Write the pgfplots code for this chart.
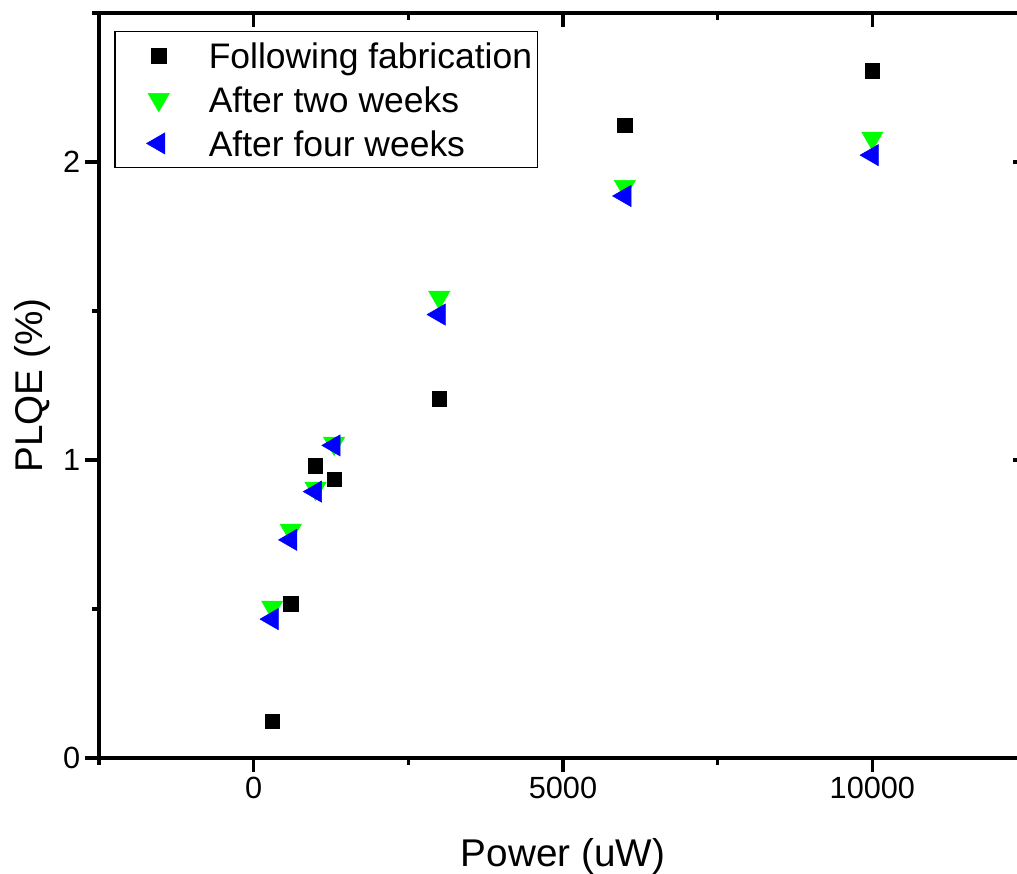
\documentclass[border=0pt]{standalone}
\usepackage{pgfplots}
\pgfplotsset{compat=1.18}
\usetikzlibrary{calc}
\usepackage{fontspec}
\setmainfont{Liberation Sans}
\begin{document}
\begin{tikzpicture}
\pgfplotsset{
  common/.style={
    scale only axis, width=696pt, height=558.75pt,
    xmin=-2500, xmax=12500, ymin=0, ymax=2.5,
    xtick={0,5000,10000}, minor xtick={-2500,2500,7500,12500},
    ytick={0,1,2}, minor ytick={0.5,1.5,2.5},
    scaled x ticks=false, scaled y ticks=false,
    axis line style={line width=2.3pt},
    major tick style={line width=2.3pt, black},
    minor tick style={line width=2.3pt, black},
    major tick length=10.5pt, minor tick length=5.25pt,
    /pgf/number format/assume math mode=true,
    /pgf/number format/set thousands separator={},
    tick label style={font=\fontsize{23}{23}\selectfont},
  }
}
\begin{axis}[common,
  tick pos=left, tick align=outside,
  xlabel={Power (uW)}, ylabel={PLQE (\%)},
  label style={font=\fontsize{29}{29}\selectfont},
  xlabel style={at={(axis description cs:0.5,-0.145)}, anchor=base},
  ylabel style={at={(axis description cs:-0.0614,0.5)}, anchor=base, rotate=0},
  legend style={at={(rel axis cs:0.0162,0.9758)}, anchor=north west,
    draw=black, line width=1.1pt, inner xsep=4pt, inner ysep=8.5pt,
    row sep=14pt, column sep=8.5pt,
    font=\fontsize{26.6}{26.6}\selectfont,
    nodes={inner xsep=0pt, inner ysep=0pt, text height=18.9pt, text depth=0pt}},
  legend cell align=left,
  legend image code/.code={\path[draw=none,fill=none] (0pt,0pt) -- (58pt,0pt); \draw[#1] plot coordinates {(29pt,0pt)};},
]
\coordinate (SW) at (rel axis cs:0,0);
\coordinate (NE) at (rel axis cs:1,1);
\addplot[only marks, mark=square*, mark size=5.4pt, black, mark options={line width=0.4pt}]
  coordinates {(300,0.124) (600,0.517) (1000,0.980) (1300,0.935) (3000,1.206) (6000,2.124) (10000,2.306)};
\addlegendentry{Following fabrication}
\addplot[only marks, mark=triangle*, mark size=9.2pt, color={rgb,1:red,0;green,1;blue,0}, mark options={rotate=180, line width=0.4pt}]
  coordinates {(300,0.506) (600,0.764) (1000,0.905) (1300,1.056) (3000,1.546) (6000,1.918) (10000,2.080)};
\addlegendentry{After two weeks}
\addplot[only marks, mark=triangle*, mark size=9.2pt, color={rgb,1:red,0;green,0;blue,1}, mark options={rotate=90, line width=0.4pt}]
  coordinates {(300,0.466) (600,0.732) (1000,0.894) (1300,1.049) (3000,1.488) (6000,1.886) (10000,2.023)};
\addlegendentry{After four weeks}
\end{axis}
\begin{axis}[common, tick pos=right, tick align=inside, xticklabels={}, yticklabels={}]
\end{axis}
\pgfresetboundingbox
\path[use as bounding box] ($(SW)+(-74.25pt,-87pt)$) rectangle ($(NE)+(-7.5pt,9.75pt)$);
\end{tikzpicture}
\end{document}
